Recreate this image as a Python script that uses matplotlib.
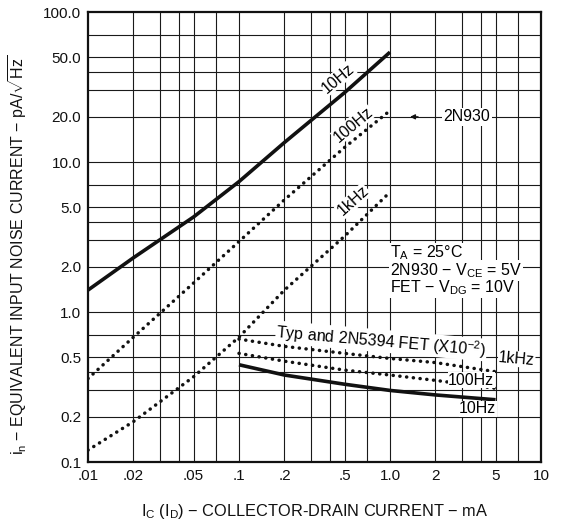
import matplotlib
matplotlib.use("Agg")
import matplotlib.pyplot as plt
from matplotlib.ticker import FixedLocator, FixedFormatter, NullLocator

plt.rcParams['font.family'] = ['Liberation Sans', 'DejaVu Sans']
plt.rcParams['mathtext.fontset'] = 'custom'
plt.rcParams['mathtext.rm'] = 'Liberation Sans'
plt.rcParams['mathtext.default'] = 'regular'

# 2N930 bipolar transistor, collector current (mA) vs noise current (pA/rtHz)
ic_bjt = [0.01, 0.02, 0.05, 0.1, 0.2, 0.5, 1.0]
bjt_10hz = [1.4, 2.3, 4.3, 7.4, 13.5, 29.0, 54.0]
bjt_100hz = [0.36, 0.68, 1.56, 2.95, 5.6, 12.5, 22.0]
bjt_1khz = [0.12, 0.186, 0.37, 0.68, 1.4, 3.2, 6.3]

# 2N5394 FET, drain current (mA) vs noise current (x10^-2 pA/rtHz)
id_fet = [0.1, 0.2, 0.5, 1.0, 2.0, 5.0]
fet_10hz = [0.445, 0.38, 0.33, 0.30, 0.28, 0.26]
fet_100hz = [0.53, 0.47, 0.41, 0.38, 0.35, 0.31]
fet_1khz = [0.66, 0.59, 0.53, 0.49, 0.46, 0.40]

x_ticks = [0.01, 0.02, 0.05, 0.1, 0.2, 0.5, 1.0, 2, 5, 10]
x_labels = ['.01', '.02', '.05', '.1', '.2', '.5', '1.0', '2', '5', '10']
y_ticks = [0.1, 0.2, 0.5, 1.0, 2.0, 5.0, 10.0, 20.0, 50.0, 100.0]
y_labels = ['0.1', '0.2', '0.5', '1.0', '2.0', '5.0', '10.0', '20.0', '50.0', '100.0']
grid_steps = [1, 2, 3, 4, 5, 7]

fig = plt.figure(figsize=(5.61, 5.24), dpi=100)
ax = fig.add_axes([88 / 561, 62 / 524, 453 / 561, 450 / 524])
ax.set_xscale('log')
ax.set_yscale('log')
ax.set_xlim(0.01, 10)
ax.set_ylim(0.1, 100)

# grid on 1-2-3-4-5-7 per decade
for d in [0.01, 0.1, 1.0]:
    for s in grid_steps:
        v = d * s
        if 0.01 < v < 10:
            ax.axvline(v, color='#1a1a1a', lw=0.8, zorder=1)
for d in [0.1, 1.0, 10.0]:
    for s in grid_steps:
        v = d * s
        if 0.1 < v < 100:
            ax.axhline(v, color='#1a1a1a', lw=0.8, zorder=1)

for sp in ax.spines.values():
    sp.set_linewidth(1.6)
    sp.set_color('#111111')

ax.xaxis.set_major_locator(FixedLocator(x_ticks))
ax.xaxis.set_major_formatter(FixedFormatter(x_labels))
ax.yaxis.set_major_locator(FixedLocator(y_ticks))
ax.yaxis.set_major_formatter(FixedFormatter(y_labels))
ax.xaxis.set_minor_locator(NullLocator())
ax.yaxis.set_minor_locator(NullLocator())
ax.tick_params(axis='both', length=0, labelsize=11, colors='#111111', pad=5)

dot = dict(linestyle=(0, (0.05, 1.9)), dash_capstyle='round', lw=2.5, color='#111111', zorder=3)
solid = dict(linestyle='-', lw=2.6, color='#111111', solid_capstyle='butt', zorder=3)

ax.plot(ic_bjt, bjt_10hz, **solid)
ax.plot(ic_bjt, bjt_100hz, **dot)
ax.plot(ic_bjt, bjt_1khz, **dot)
ax.plot(id_fet, fet_10hz, **solid)
ax.plot(id_fet, fet_100hz, **dot)
ax.plot(id_fet, fet_1khz, **dot)

fs = 11.5
curve_lbl = dict(ha='center', va='center', fontsize=fs, rotation_mode='anchor', zorder=2,
                 bbox=dict(fc='white', ec='none', pad=0.5))
ax.text(0.45, 36.0, '10Hz', rotation=40, **curve_lbl)
ax.text(0.57, 17.8, '100Hz', rotation=40, **curve_lbl)
ax.text(0.57, 5.5, '1kHz', rotation=42, **curve_lbl)

ax.text(3.24, 20.0, '2N930', ha='center', va='center', fontsize=fs,
        bbox=dict(fc='white', ec='none', pad=1.0), zorder=4)
ax.annotate('', xy=(1.3, 20.0), xytext=(1.6, 20.0),
            arrowprops=dict(arrowstyle='-|>', color='#111111', lw=1.0,
                            mutation_scale=7), zorder=4)

block = dict(ha='left', va='center', fontsize=fs, zorder=4,
             bbox=dict(fc='white', ec='none', pad=0.8))
ax.text(1.0, 2.47, '$T_A$ = 25°C', **block)
ax.text(1.0, 1.9, '2N930 − $V_{CE}$ = 5V', **block)
ax.text(1.0, 1.45, 'FET − $V_{DG}$ = 10V', **block)

ax.text(0.175, 0.675, 'Typ and 2N5394 FET (X10$^{-2}$)', ha='left', va='baseline',
        rotation=-5, rotation_mode='anchor', fontsize=fs, zorder=4,
        bbox=dict(fc='white', ec='none', pad=0.3))
ax.text(5.2, 0.465, '1kHz', ha='left', va='baseline', rotation=-5,
        rotation_mode='anchor', fontsize=fs, zorder=4,
        bbox=dict(fc='white', ec='none', pad=0.3))
ax.text(3.45, 0.352, '100Hz', ha='center', va='center', fontsize=fs, zorder=4,
        bbox=dict(fc='white', ec='none', pad=0.3))
ax.text(3.8, 0.226, '10Hz', ha='center', va='center', fontsize=fs, zorder=4,
        bbox=dict(fc='white', ec='none', pad=0.3))

ax.set_ylabel(r'$i_n$ − EQUIVALENT INPUT NOISE CURRENT − pA/$\sqrt{Hz}$',
              fontsize=11.5, color='#111111')
ax.yaxis.set_label_coords(-0.13, 0.46)
ax.set_xlabel('$I_C$ ($I_D$) − COLLECTOR-DRAIN CURRENT − mA',
              fontsize=11.8, labelpad=14, color='#111111')

fig.savefig('out.png', dpi=100)
